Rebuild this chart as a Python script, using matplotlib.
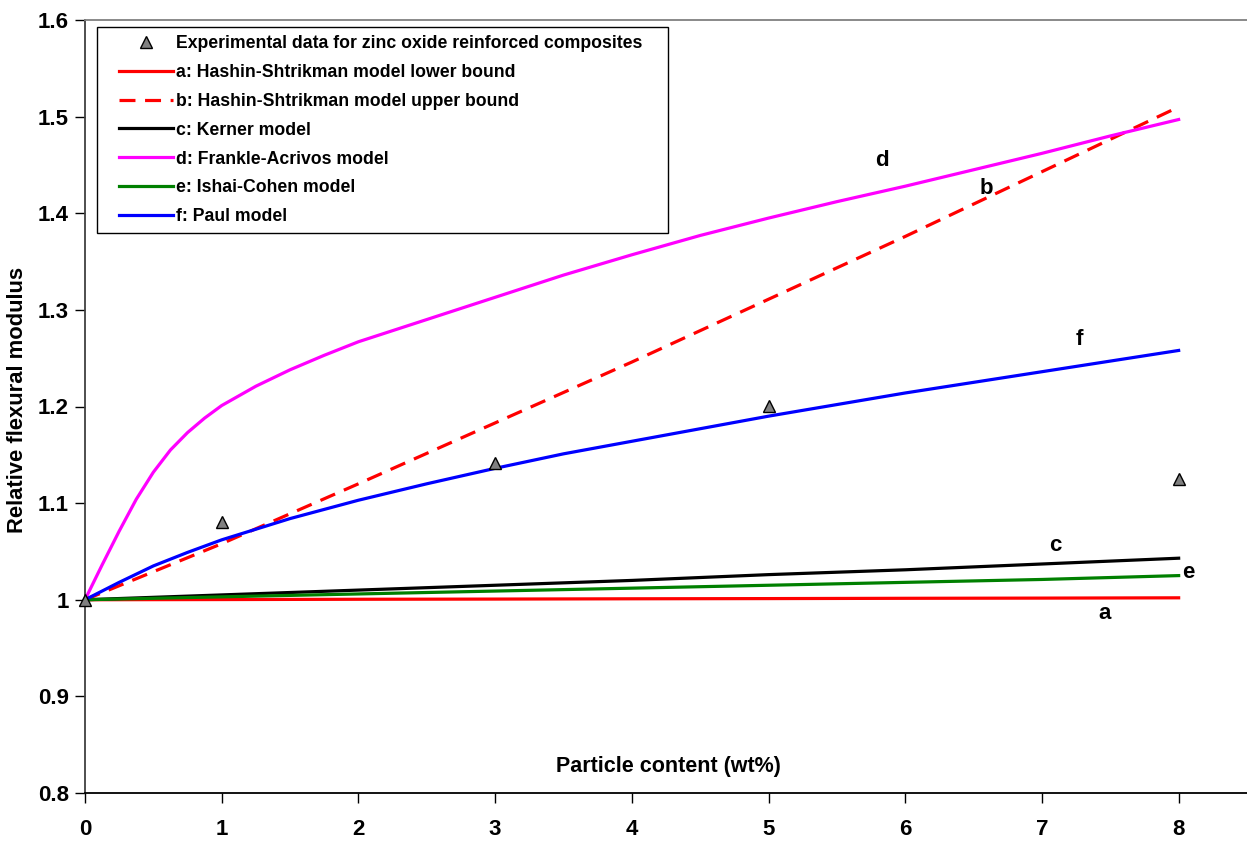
import numpy as np
import matplotlib.pyplot as plt
from matplotlib.legend_handler import HandlerLine2D

plt.rcParams['font.family'] = ['Liberation Sans', 'DejaVu Sans']
plt.rcParams['font.weight'] = 'bold'

# experimental data
exp_x = [0, 1, 3, 5, 8]
exp_y = [1.0, 1.080, 1.142, 1.201, 1.125]

# model curves
xd = [0, 0.125, 0.25, 0.375, 0.5, 0.625, 0.75, 0.875, 1, 1.25, 1.5, 1.75, 2, 2.5, 3, 3.5,
      4, 4.5, 5, 5.5, 6, 6.5, 7, 7.5, 8]
d_vals = [1.0, 1.036, 1.071, 1.104, 1.132, 1.155, 1.173, 1.188, 1.201, 1.221, 1.238, 1.253,
          1.267, 1.290, 1.313, 1.336, 1.357, 1.377, 1.395, 1.412, 1.428, 1.445, 1.462,
          1.480, 1.497]

xf = [0, 0.25, 0.5, 0.75, 1, 1.5, 2, 2.5, 3, 3.5, 4, 4.5, 5, 5.5, 6, 6.5, 7, 7.5, 8]
f_vals = [1.0, 1.018, 1.035, 1.049, 1.062, 1.084, 1.103, 1.120, 1.136, 1.151, 1.164, 1.177,
          1.190, 1.202, 1.214, 1.225, 1.236, 1.247, 1.258]

xi = [0, 1, 2, 3, 4, 5, 6, 7, 8]
a_vals = [1.0, 1.0002, 1.0005, 1.0007, 1.001, 1.0012, 1.0015, 1.0017, 1.002]
b_vals = [1.0, 1.058, 1.120, 1.183, 1.246, 1.311, 1.376, 1.443, 1.510]
c_vals = [1.0, 1.005, 1.010, 1.015, 1.020, 1.026, 1.031, 1.037, 1.043]
e_vals = [1.0, 1.003, 1.006, 1.009, 1.012, 1.015, 1.018, 1.021, 1.025]

labels = ["Experimental data for zinc oxide reinforced composites",
          "a: Hashin-Shtrikman model lower bound",
          "b: Hashin-Shtrikman model upper bound",
          "c: Kerner model",
          "d: Frankle-Acrivos model",
          "e: Ishai-Cohen model",
          "f: Paul model"]

fig = plt.figure(figsize=(12.47, 8.41), dpi=100)
ax = fig.add_axes([85 / 1247, 1 - 793 / 841, 1 - 85 / 1247, (793 - 20) / 841])

lw = 2.3
ax.plot(xi, a_vals, color='#ff0000', lw=lw, label=labels[1], zorder=3)
ax.plot(xi, b_vals, color='#ff0000', lw=lw, ls=(0, (5, 3)), label=labels[2], zorder=3)
ax.plot(xi, c_vals, color='black', lw=lw, label=labels[3], zorder=3)
ax.plot(xd, d_vals, color='#ff00ff', lw=lw, label=labels[4], zorder=3)
ax.plot(xi, e_vals, color='#008000', lw=lw, label=labels[5], zorder=3)
ax.plot(xf, f_vals, color='#0000ff', lw=lw, label=labels[6], zorder=3)
ax.plot(exp_x, exp_y, ls='none', marker='^', ms=9, mfc='#808080', mec='black', mew=1,
        label=labels[0], zorder=5, clip_on=False)

ax.set_xlim(0, 8.5)
ax.set_ylim(0.8, 1.6)
ax.set_xticks(range(9))
ax.set_yticks([0.8, 0.9, 1.0, 1.1, 1.2, 1.3, 1.4, 1.5, 1.6])
ax.set_yticklabels(['0.8', '0.9', '1', '1.1', '1.2', '1.3', '1.4', '1.5', '1.6'])
ax.tick_params(labelsize=16, length=7, width=1)
ax.tick_params(axis='x', pad=12)
ax.tick_params(axis='y', pad=4.5)
for t in ax.get_xticklabels() + ax.get_yticklabels():
    t.set_fontweight('bold')

ax.spines['right'].set_visible(False)
ax.spines['top'].set_color('#808080')
ax.spines['top'].set_linewidth(1.3)
ax.spines['left'].set_color('#404040')
ax.spines['left'].set_linewidth(1.3)
ax.spines['bottom'].set_color('black')
ax.spines['bottom'].set_linewidth(1.3)

ax.text(4.27, 0.827, "Particle content (wt%)", fontsize=15.5, fontweight='bold',
        ha='center', va='center')
fig.text(18 / 1247, 1 - 400 / 841, "Relative flexural modulus", fontsize=15.8,
         fontweight='bold', rotation=90, ha='center', va='center')

# curve letters
ax.text(5.83, 1.455, "d", fontsize=16, fontweight='bold', ha='center', va='center')
ax.text(6.59, 1.426, "b", fontsize=16, fontweight='bold', ha='center', va='center')
ax.text(7.275, 1.269, "f", fontsize=16, fontweight='bold', ha='center', va='center')
ax.text(7.10, 1.0565, "c", fontsize=16, fontweight='bold', ha='center', va='center')
ax.text(8.07, 1.0286, "e", fontsize=16, fontweight='bold', ha='center', va='center')
ax.text(7.46, 0.986, "a", fontsize=16, fontweight='bold', ha='center', va='center')

h, l = ax.get_legend_handles_labels()
order = [6, 0, 1, 2, 3, 4, 5]
fs = 12.7
leg = ax.legend([h[i] for i in order], [l[i] for i in order],
                loc='upper left',
                bbox_to_anchor=(97 / 1247, 1 - 229 / 841, 571 / 1247, 202 / 841),
                bbox_transform=fig.transFigure, borderaxespad=0, mode='expand',
                prop={'size': fs, 'weight': 'bold'}, handlelength=3.85,
                handletextpad=0.2, labelspacing=0.675, fancybox=False,
                framealpha=1, edgecolor='black', borderpad=0.45,
                handler_map={plt.Line2D: HandlerLine2D(xpad=0.8)})
leg.get_frame().set_linewidth(1)

fig.savefig('out.png', dpi=100)
